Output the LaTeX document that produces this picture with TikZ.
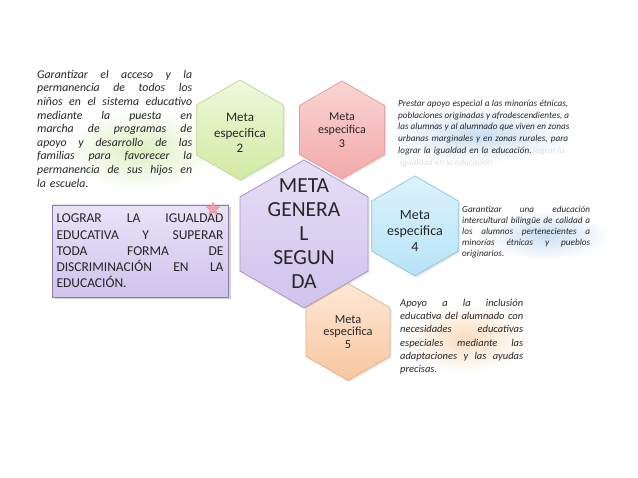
\documentclass[tikz,border=0pt]{standalone}
\usepackage{fontspec}
\setmainfont{Carlito}
\usepackage{xcolor}
\usepackage{tikz}
\usetikzlibrary{shapes.geometric,shadows,positioning}
\definecolor{tInk}{HTML}{262626}
\definecolor{gTop}{HTML}{EFF8DC}
\definecolor{gBot}{HTML}{D0EAA2}
\definecolor{gLine}{HTML}{C2DC98}
\definecolor{rTop}{HTML}{FAD4D4}
\definecolor{rBot}{HTML}{F3A9A9}
\definecolor{rLine}{HTML}{E6A0A0}
\definecolor{vTop}{HTML}{E6DEF6}
\definecolor{vBot}{HTML}{CFC3EC}
\definecolor{vLine}{HTML}{A596CC}
\definecolor{cTop}{HTML}{DDF3FC}
\definecolor{cBot}{HTML}{B6E3F6}
\definecolor{cLine}{HTML}{8ECAE6}
\definecolor{oTop}{HTML}{FEE8D6}
\definecolor{oBot}{HTML}{F8C69E}
\definecolor{oLine}{HTML}{E6B48C}
\definecolor{boxLine}{HTML}{8A7EA6}
\definecolor{glowG}{HTML}{DCEFC0}
\definecolor{glowB}{HTML}{C9DDF2}
\definecolor{glowO}{HTML}{FADCC0}
\definecolor{starPink}{HTML}{EFA4B4}
\newlength{\jw}
\newcommand{\jline}[1]{\leavevmode\hbox to\jw{\spaceskip=\fontdimen2\font plus 1fil\relax #1}\\}
\tikzset{
  hexa/.style={regular polygon, regular polygon sides=6, shape border rotate=30,
    inner sep=0pt, minimum size=100pt, line width=0.8pt,
    drop shadow={opacity=0.18, shadow xshift=1.5pt, shadow yshift=-1.5pt}},
  hexgreen/.style={hexa, top color=gTop, bottom color=gBot, draw=gLine},
  hexred/.style={hexa, top color=rTop, bottom color=rBot, draw=rLine},
  hexviolet/.style={hexa, top color=vTop, bottom color=vBot, draw=vLine},
  hexcyan/.style={hexa, top color=cTop, bottom color=cBot, draw=cLine},
  hexorange/.style={hexa, top color=oTop, bottom color=oBot, draw=oLine},
  hexlabel/.style={align=center, text=tInk, inner sep=0pt},
  note/.style={text=tInk, align=left, inner sep=0pt, anchor=north west,
    text width=#1, execute at begin node={\setlength{\jw}{#1}}},
  ghost/.style={text=black!12, inner sep=0pt, anchor=north west,
    font=\itshape\fontsize{9.2}{11.7}\selectfont},
  glow/.style={ellipse, inner sep=0pt, outer color=white},
}
\begin{document}
\begin{tikzpicture}[x=1pt, y=-1pt]
  \useasboundingbox[fill=white] (0,0) rectangle (638,478);
  % glows behind the notes
  \node[glow, inner color=glowG, minimum width=150pt, minimum height=80pt] (gl1) at (140,150) {};
  \node[glow, inner color=glowB, minimum width=190pt, minimum height=55pt] (gl2) at (480,135) {};
  \node[glow, inner color=glowB, minimum width=130pt, minimum height=50pt] (gl3) at (545,235) {};
  \node[glow, inner color=glowO, minimum width=130pt, minimum height=70pt] (gl4) at (465,338) {};

  \node[hexviolet, minimum size=148pt] (gen) at (304,234) {};
  \node[hexgreen] (m2) at (240,130) {};
  \node[hexred, minimum size=98pt] (m3) at (342,130) {};
  \node[hexcyan] (m4) at (415,226) {};
  \node[hexorange, minimum size=97pt] (m5) at (348,332) {};

  \node[hexlabel, font=\fontsize{21.5}{24}\selectfont] (gent) at (gen) {META\\GENERA\\L\\SEGUN\\DA};
  \node[hexlabel, font=\fontsize{13}{15.5}\selectfont] (m2t) at (240,133) {Meta\\especifica\\2};
  \node[hexlabel, font=\fontsize{12}{13.5}\selectfont] (m3t) at (m3) {Meta\\especifica\\3};
  \node[hexlabel, font=\fontsize{14}{16}\selectfont] (m4t) at (415,231) {Meta\\especifica\\4};
  \node[hexlabel, font=\fontsize{12.3}{12.8}\selectfont] (m5t) at (m5) {Meta\\especifica\\5};

  \node[draw=boxLine, line width=0.6pt, top color=vTop!85!white, bottom color=vBot,
    minimum width=176pt, minimum height=92pt, inner sep=0pt,
    text=tInk, font=\fontsize{13.5}{16.3}\selectfont, align=left,
    text width=167pt, execute at begin node={\setlength{\jw}{167pt}},
    drop shadow={opacity=0.35, shadow xshift=2.5pt, shadow yshift=-2.5pt}] (goal) at (140,251)
    {\jline{LOGRAR LA IGUALDAD}\jline{EDUCATIVA Y SUPERAR}\jline{TODA FORMA DE}\jline{DISCRIMINACIÓN EN LA}EDUCACIÓN.};
  \node[star, star points=5, star point ratio=2.2, minimum size=14pt, inner sep=0pt,
    fill=starPink, draw=starPink!80!red] (mark) at (213,209) {};

  \node[note=155pt, font=\itshape\fontsize{11.8}{13.6}\selectfont] (n2) at (37,70)
    {\jline{Garantizar el acceso y la}\jline{permanencia de todos los}\jline{niños en el sistema educativo}%
     \jline{mediante la puesta en}\jline{marcha de programas de}\jline{apoyo y desarrollo de las}%
     \jline{familias para favorecer la}\jline{permanencia de sus hijos en}la escuela.};
  \node[note=170pt, font=\itshape\fontsize{9.2}{11.7}\selectfont] (n3) at (398,100)
    {\jline{Prestar apoyo especial a las minorías étnicas,}\jline{poblaciones originadas y afrodescendientes, a}%
     \jline{las alumnas y al alumnado que viven en zonas}\jline{urbanas marginales y en zonas rurales, para}%
     lograr la igualdad en la educación.};
  \node[ghost] (n3s) at (533,147) {lograr la};
  \node[ghost] (n3r) at (400,158.5) {igualdad en la educación.};
  \node[note=128pt, font=\itshape\fontsize{9.2}{11}\selectfont] (n4) at (462,206)
    {\jline{Garantizar una educación}\jline{intercultural bilingüe de calidad a}%
     \jline{los alumnos pertenecientes a}\jline{minorías étnicas y pueblos}originarios.};
  \node[note=123pt, font=\itshape\fontsize{10.5}{13.2}\selectfont] (n5) at (400,299)
    {\jline{Apoyo a la inclusión}\jline{educativa del alumnado con}\jline{necesidades educativas}%
     \jline{especiales mediante las}\jline{adaptaciones y las ayudas}precisas.};
\end{tikzpicture}
\end{document}
